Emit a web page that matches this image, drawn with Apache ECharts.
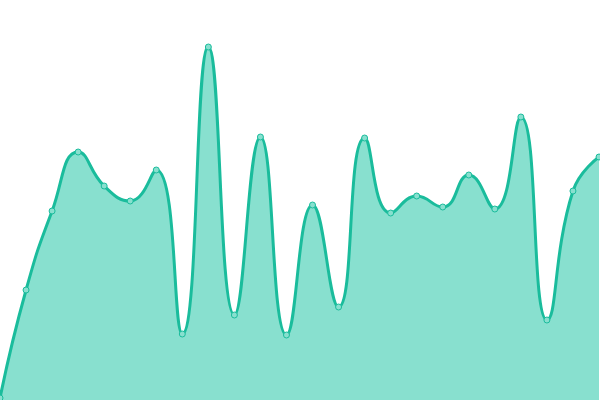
<!DOCTYPE html>
<html>
<head>
<meta charset="utf-8">
<script src="https://cdn.jsdelivr.net/npm/echarts@6/dist/echarts.min.js"></script>
<style>html,body{margin:0;padding:0;background:#fff}#c{width:600px;height:400px}</style>
</head>
<body>
<div id="c"></div>
<script>
var categories = ['1','2','3','4','5','6','7','8','9','10','11','12','13','14','15','16','17','18','19','20','21','22','23','24'];
var values = [2, 110, 189, 248, 214, 199, 230, 66, 353, 85, 263, 65, 195, 93, 262, 187, 204, 193, 225, 191, 283, 80, 209, 243];

var chart = echarts.init(document.getElementById('c'));
chart.setOption({
  animation: false,
  grid: { left: 0, right: 1, top: 0, bottom: 0 },
  xAxis: { type: 'category', data: categories, boundaryGap: false, show: false },
  yAxis: { type: 'value', min: 0, max: 400, show: false },
  series: [{
    type: 'line',
    data: values,
    smooth: true,
    symbol: 'circle',
    symbolSize: 6,
    lineStyle: { color: '#1abc9c', width: 3 },
    itemStyle: { color: '#88e0cf', borderColor: '#1abc9c', borderWidth: 1 },
    areaStyle: { color: '#88e0cf', opacity: 1 }
  }]
});
</script>
</body>
</html>
